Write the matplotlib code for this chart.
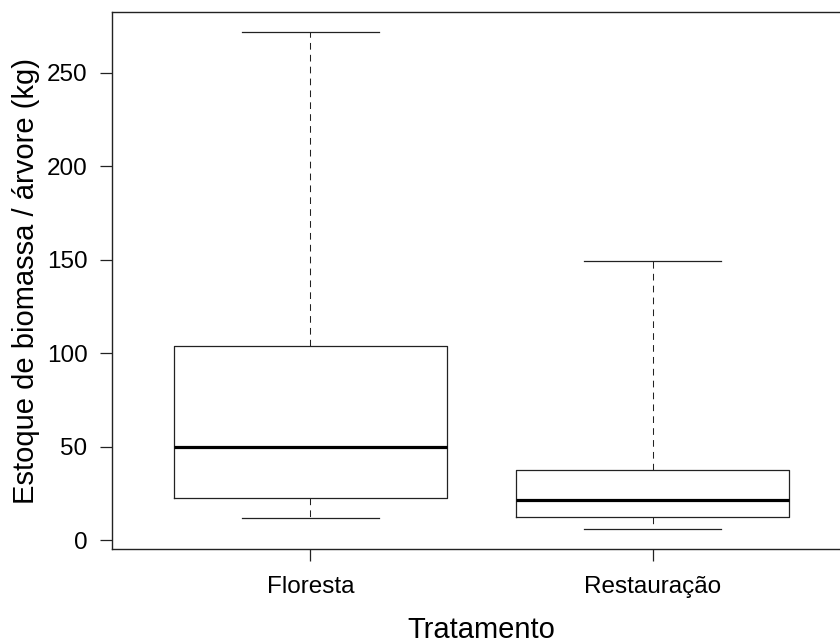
"""Boxplot of biomass stock per tree by treatment (R-style look)."""

import matplotlib
matplotlib.use("Agg")
import matplotlib.pyplot as plt

plt.rcParams["font.family"] = ["Liberation Sans", "DejaVu Sans"]

# values
categories = ["Floresta", "Restauração"]
whislo = [11.9, 5.9]
q1 = [22.3, 12.2]
med = [50.0, 21.3]
q3 = [103.7, 37.5]
whishi = [272.1, 149.3]
yticks = [0, 50, 100, 150, 200, 250]

stats = []
for lab, lo, a, m, b, hi in zip(categories, whislo, q1, med, q3, whishi):
    stats.append(dict(label=lab, whislo=lo, q1=a, med=m, q3=b, whishi=hi,
                      fliers=[]))

fig = plt.figure(figsize=(8.4, 6.44), dpi=100)
# plot region: x 112..851 px (right edge falls off the image), y 12..549 px
ax = fig.add_axes([112 / 840, (644 - 549) / 644, 739 / 840, 537 / 644])

lc = "#222222"
ax.bxp(stats, positions=[1, 2], widths=0.8, showfliers=False,
       boxprops=dict(color=lc, lw=0.9),
       medianprops=dict(color="black", lw=2.3, solid_capstyle="butt"),
       whiskerprops=dict(color=lc, lw=0.75, linestyle=(0, (6.4, 5))),
       capprops=dict(color=lc, lw=0.9), capwidths=0.4)

ax.set_xlim(0.42, 2.58)
ax.set_ylim(-4.8, 282.6)
ax.set_yticks(yticks)
ax.set_xticks([1, 2])
ax.set_xticklabels(categories)

for s in ax.spines.values():
    s.set_color(lc)
    s.set_linewidth(1.0)
ax.tick_params(axis="both", length=8.6, width=0.9, color=lc, labelsize=17.5)
ax.tick_params(axis="y", pad=9)
ax.tick_params(axis="x", pad=11)

ax.set_ylabel("Estoque de biomassa / árvore (kg)", fontsize=21, labelpad=5)
ax.set_xlabel("Tratamento", fontsize=21)
# keep the label centred on the full plot region (as in R)
ax.xaxis.set_label_coords(0.5, -0.1255)

fig.savefig("out.png", dpi=100)
